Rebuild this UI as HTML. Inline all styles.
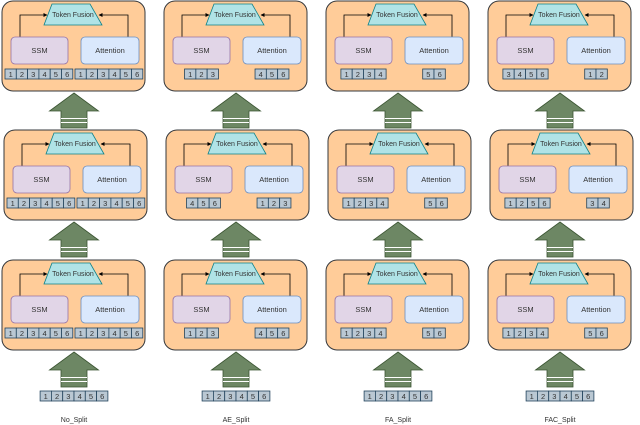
<!DOCTYPE html>
<html><head><meta charset="utf-8"><style>
html,body{margin:0;padding:0;background:#fff}
svg{display:block}
text{font-family:"Liberation Sans",sans-serif;fill:#333}
</style></head><body>
<svg id="s" width="640" height="425" viewBox="0 0 640 425" xmlns="http://www.w3.org/2000/svg">
<defs><marker id="m" viewBox="0 0 10 10" refX="9" refY="5" markerWidth="5" markerHeight="5" orient="auto"><path d="M0,0L10,5L0,10z" fill="#000"/></marker></defs>
</svg>
<script>
var s=document.getElementById('s'),h='';
var cols=[2,164,326,488],rows=[1,130,260];
var cfg=[
 [[[1,2,3,4,5,6],[1,2,3,4,5,6]],[[1,2,3,4,5,6],[1,2,3,4,5,6]],[[1,2,3,4,5,6],[1,2,3,4,5,6]]],
 [[[1,2,3],[4,5,6]],[[4,5,6],[1,2,3]],[[1,2,3],[4,5,6]]],
 [[[1,2,3,4],[5,6]],[[1,2,3,4],[5,6]],[[1,2,3,4],[5,6]]],
 [[[3,4,5,6],[1,2]],[[1,2,5,6],[3,4]],[[1,2,3,4],[5,6]]]];
var labels=['No_Split','AE_Split','FA_Split','FAC_Split'];
var W=11.3;
function cells(arr,cx,y,full,startx){
 var x=full?startx:cx-arr.length*W/2;
 arr.forEach(function(n,i){
  h+='<rect x="'+(x+i*W)+'" y="'+y+'" width="'+W+'" height="10" fill="#bac8d3" stroke="#23445d" stroke-width="0.8"/>';
  h+='<text x="'+(x+i*W+W/2)+'" y="'+(y+8)+'" font-size="7.5" text-anchor="middle">'+n+'</text>';
 });
}
function arrow(cx,ty){
 h+='<path d="M'+cx+','+ty+' L'+(cx+24.5)+','+(ty+18)+' L'+(cx+13)+','+(ty+18)+' L'+(cx+13)+','+(ty+35)+' L'+(cx-13)+','+(ty+35)+' L'+(cx-13)+','+(ty+18)+' L'+(cx-24.5)+','+(ty+18)+'z" fill="#6d8764" stroke="#3a5431" stroke-width="0.8"/>';
 h+='<line x1="'+(cx-13)+'" x2="'+(cx+13)+'" y1="'+(ty+25.5)+'" y2="'+(ty+25.5)+'" stroke="#fff" stroke-width="1"/>';
 h+='<line x1="'+(cx-13)+'" x2="'+(cx+13)+'" y1="'+(ty+29.5)+'" y2="'+(ty+29.5)+'" stroke="#fff" stroke-width="1"/>';
}
cols.forEach(function(x0,c){
 rows.forEach(function(yy,r){
  var x=x0+(r==1?2:0),y=yy;
  h+='<rect x="'+x+'" y="'+y+'" width="143" height="90" rx="11" fill="#ffcc99" stroke="#36393d" stroke-width="1"/>';
  h+='<path d="M'+(x+18)+','+(y+36)+' V'+(y+14)+' H'+(x+45)+'" fill="none" stroke="#000" stroke-width="0.8" marker-end="url(#m)"/>';
  h+='<path d="M'+(x+126)+','+(y+36)+' V'+(y+14)+' H'+(x+97)+'" fill="none" stroke="#000" stroke-width="0.8" marker-end="url(#m)"/>';
  h+='<path d="M'+(x+50)+','+(y+3)+' H'+(x+88)+' L'+(x+100)+','+(y+24)+' H'+(x+42)+'z" fill="#b0e3e6" stroke="#0e8088" stroke-width="0.8"/>';
  h+='<text x="'+(x+71)+'" y="'+(y+16)+'" font-size="7" text-anchor="middle">Token Fusion</text>';
  h+='<rect x="'+(x+9)+'" y="'+(y+36)+'" width="57" height="27" rx="4" fill="#e1d5e7" stroke="#9673a6" stroke-width="0.8"/>';
  h+='<text x="'+(x+37.5)+'" y="'+(y+52)+'" font-size="7.5" text-anchor="middle">SSM</text>';
  h+='<rect x="'+(x+79)+'" y="'+(y+36)+'" width="58" height="27" rx="4" fill="#dae8fc" stroke="#6c8ebf" stroke-width="0.8"/>';
  h+='<text x="'+(x+108)+'" y="'+(y+52)+'" font-size="7.5" text-anchor="middle">Attention</text>';
  var t=cfg[c][r],full=(c==0);
  cells(t[0],x+37.5,y+68,full,x+3);
  cells(t[1],x+108,y+68,full,x+73);
  if(r<2) arrow(x0+72,yy+92);
 });
 arrow(x0+72,352);
 cells([1,2,3,4,5,6],x0+72,391,false,0);
 h+='<text x="'+(x0+72)+'" y="422" font-size="7" text-anchor="middle">'+labels[c]+'</text>';
});
s.insertAdjacentHTML('beforeend',h);
</script>
</body></html>
